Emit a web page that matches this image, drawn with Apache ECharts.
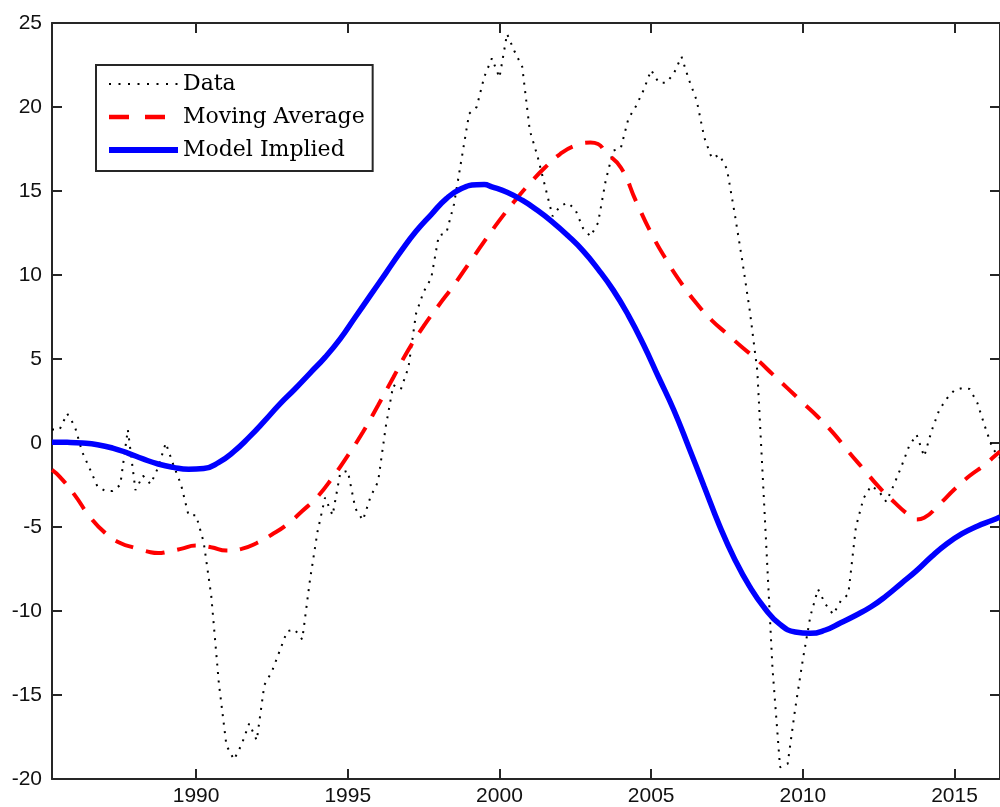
<!DOCTYPE html>
<html>
<head>
<meta charset="utf-8">
<script src="https://cdn.jsdelivr.net/npm/echarts@6/dist/echarts.min.js"></script>
<style>
  html, body { margin: 0; padding: 0; background: #fff; }
  #chart { width: 1000px; height: 807px; }
</style>
</head>
<body>
<div id="chart"></div>
<script>
// quarterly data, first quarter at 1985.25
const dataStart = 1985.25;
const dataValues = [
  0.8, 0.8, 1.75,
  1.0, -0.55, -1.55, -2.6,
  -2.85, -2.85, -2.5, 0.8,
  -2.8, -1.95, -2.45, -1.45,
  0.0, -1.3, -2.45, -4.3,
  -4.3, -5.9, -9.1, -14.3,
  -18.0, -18.85, -17.95, -16.7,
  -17.7, -14.4, -13.6, -12.4,
  -11.2, -11.1, -11.7, -8.2,
  -5.3, -3.25, -4.3, -1.8,
  -1.65, -3.9, -4.6, -3.2,
  -2.3, 0.95, 3.45, 3.2,
  4.5, 7.7, 9.0, 9.8,
  12.35, 12.5, 14.2, 16.9,
  19.6, 20.0, 21.8, 22.9,
  21.75, 24.35, 23.3, 22.4,
  18.6, 17.1, 15.3, 13.5,
  14.1, 14.3, 13.9, 12.8,
  12.3, 13.1, 15.6, 17.4,
  17.55, 19.3, 20.05, 21.0,
  22.2, 21.45, 21.45, 22.0,
  23.0, 21.6, 20.4, 18.2,
  16.95, 17.15, 16.3, 13.7,
  10.9, 7.9, 4.3, -4.5,
  -13.4, -19.3, -19.1, -15.8,
  -12.9, -10.3, -8.7, -9.6,
  -10.2, -9.4, -9.0, -5.0,
  -3.3, -2.55, -2.85, -3.5,
  -2.5, -1.4, -0.2, 0.5,
  -0.8, 0.75, 1.98, 2.65,
  3.15, 3.27, 3.22, 2.4,
  1.0, -0.3, -0.9
];

const maYears = [
  1985.25, 1985.5, 1986.0, 1986.5, 1987.0, 1987.5, 1988.0, 1988.5, 1988.75, 1989.0,
  1989.5, 1990.0, 1990.5, 1991.0, 1991.5, 1992.0, 1992.5, 1993.0, 1993.5, 1994.0,
  1994.5, 1995.0, 1995.5, 1996.0, 1996.5, 1997.0, 1997.5, 1998.0, 1998.5, 1999.0,
  1999.5, 2000.0, 2000.5, 2001.0, 2001.5, 2002.0, 2002.5, 2003.0, 2003.25, 2003.5,
  2004.0, 2004.5, 2005.0, 2005.5, 2006.0, 2006.5, 2007.0, 2007.5, 2008.0, 2008.5,
  2009.0, 2009.5, 2010.0, 2010.5, 2011.0, 2011.5, 2012.0, 2012.5, 2013.0, 2013.5,
  2013.75, 2014.0, 2014.5, 2015.0, 2015.5, 2016.0, 2016.25, 2016.5
];
const maValues = [
  -1.6, -2.0, -3.1, -4.4, -5.35, -5.95, -6.25, -6.5, -6.55, -6.5,
  -6.3, -6.1, -6.2, -6.4, -6.3, -5.95, -5.45, -4.85, -4.05, -3.2,
  -2.05, -0.75, 0.65, 2.25, 3.9, 5.55, 6.95, 8.2, 9.4, 10.7,
  12.0, 13.25, 14.4, 15.45, 16.4, 17.2, 17.7, 17.88, 17.8, 17.3,
  16.4, 14.4, 12.5, 10.9, 9.5, 8.3, 7.3, 6.5, 5.7, 4.95,
  4.1, 3.25, 2.4, 1.55, 0.6, -0.5, -1.55, -2.6, -3.5, -4.3,
  -4.55, -4.45, -3.65, -2.75, -1.95, -1.3, -0.9, -0.5
];

const modelYears = [
  1985.25, 1985.75, 1986.25, 1986.75, 1987.25, 1987.75, 1988.25, 1988.75, 1989.25, 1989.75,
  1990.25, 1990.75, 1991.25, 1991.75, 1992.25, 1992.75, 1993.25, 1993.75, 1994.25, 1994.75,
  1995.25, 1995.75, 1996.25, 1996.75, 1997.25, 1997.75, 1998.25, 1998.75, 1999.25, 1999.5,
  1999.75, 2000.25, 2000.75, 2001.25, 2001.75, 2002.25, 2002.75, 2003.25, 2003.75, 2004.25,
  2004.75, 2005.25, 2005.75, 2006.25, 2006.75, 2007.25, 2007.75, 2008.25, 2008.75, 2009.25,
  2009.75, 2010.25, 2010.75, 2011.25, 2011.75, 2012.25, 2012.75, 2013.25, 2013.75, 2014.25,
  2014.75, 2015.25, 2015.75, 2016.25, 2016.5
];
const modelValues = [
  0.05, 0.04, 0.0, -0.1, -0.3, -0.6, -0.95, -1.25, -1.45, -1.56,
  -1.52, -1.15, -0.5, 0.35, 1.3, 2.3, 3.2, 4.15, 5.1, 6.2,
  7.5, 8.8, 10.1, 11.4, 12.6, 13.6, 14.55, 15.15, 15.37, 15.38,
  15.25, 14.92, 14.45, 13.85, 13.15, 12.35, 11.45, 10.35, 9.1, 7.6,
  5.85, 3.9, 1.95, -0.3, -2.6, -4.9, -6.9, -8.55, -9.85, -10.8,
  -11.25, -11.33, -11.13, -10.7, -10.25, -9.75, -9.1, -8.35, -7.6, -6.75,
  -6.0, -5.4, -4.95, -4.6, -4.4
];

const xTicks = [1990, 1995, 2000, 2005, 2010, 2015];

const dataPoints = dataValues.map((v, i) => [dataStart + i * 0.25, v]);
const maPoints = maYears.map((y, i) => [y, maValues[i]]);
const modelPoints = modelYears.map((y, i) => [y, modelValues[i]]);

const axisColor = "#262626";
const labelFont = "'Liberation Sans', Arial, Helvetica, sans-serif";

function xAxisOpt(pos, showLabel) {
  return {
    type: "value",
    position: pos,
    min: 1985.25,
    max: 2016.5,
    axisLine: { show: true, onZero: false, lineStyle: { color: axisColor, width: 2 } },
    axisTick: { show: true, inside: true, length: 10, customValues: xTicks, lineStyle: { color: axisColor, width: 2 } },
    axisLabel: {
      show: showLabel,
      customValues: xTicks,
      formatter: v => String(v),
      margin: 7,
      color: "#111",
      fontSize: 21,
      fontFamily: labelFont
    },
    splitLine: { show: false }
  };
}

function yAxisOpt(pos, showLabel) {
  return {
    type: "value",
    position: pos,
    min: -20,
    max: 25,
    interval: 5,
    axisLine: { show: true, onZero: false, lineStyle: { color: axisColor, width: 2 } },
    axisTick: { show: true, inside: true, length: 10, lineStyle: { color: axisColor, width: 2 } },
    axisLabel: {
      show: showLabel,
      margin: 10,
      color: "#111",
      fontSize: 21,
      fontFamily: labelFont
    },
    splitLine: { show: false }
  };
}

const chart = echarts.init(document.getElementById("chart"));
chart.setOption({
  animation: false,
  backgroundColor: "#fff",
  grid: { left: 52, top: 23, width: 956, height: 756 },
  xAxis: [xAxisOpt("bottom", true), xAxisOpt("top", false)],
  yAxis: [yAxisOpt("left", true), yAxisOpt("right", false)],
  legend: {
    orient: "vertical",
    left: 96,
    top: 65,
    padding: [6, 8, 8, 10],
    itemWidth: 69,
    itemHeight: 14,
    itemGap: 7,
    itemStyle: { opacity: 0 },
    borderColor: axisColor,
    borderWidth: 2,
    backgroundColor: "#fff",
    textStyle: {
      fontFamily: "'DejaVu Serif', serif",
      fontSize: 22,
      lineHeight: 26,
      color: "#000"
    },
    data: [
      { name: "Data", lineStyle: { width: 2, type: [2, 7.5] } },
      { name: "Moving Average", lineStyle: { width: 4.5, type: [20, 16] } },
      { name: "Model Implied", lineStyle: { width: 6 } }
    ]
  },
  series: [
    {
      name: "Data",
      type: "line",
      symbol: "none",
      data: dataPoints,
      lineStyle: { color: "#000", width: 2, type: [2, 6.5] },
      itemStyle: { color: "#000" },
      z: 3
    },
    {
      name: "Moving Average",
      type: "line",
      symbol: "none",
      smooth: 0.5,
      data: maPoints,
      lineStyle: { color: "#ff0000", width: 4, type: [19, 13] },
      itemStyle: { color: "#ff0000" },
      z: 4
    },
    {
      name: "Model Implied",
      type: "line",
      symbol: "none",
      smooth: 0.5,
      data: modelPoints,
      lineStyle: { color: "#0000ff", width: 5.5 },
      itemStyle: { color: "#0000ff" },
      z: 5
    }
  ]
});
</script>
</body>
</html>
